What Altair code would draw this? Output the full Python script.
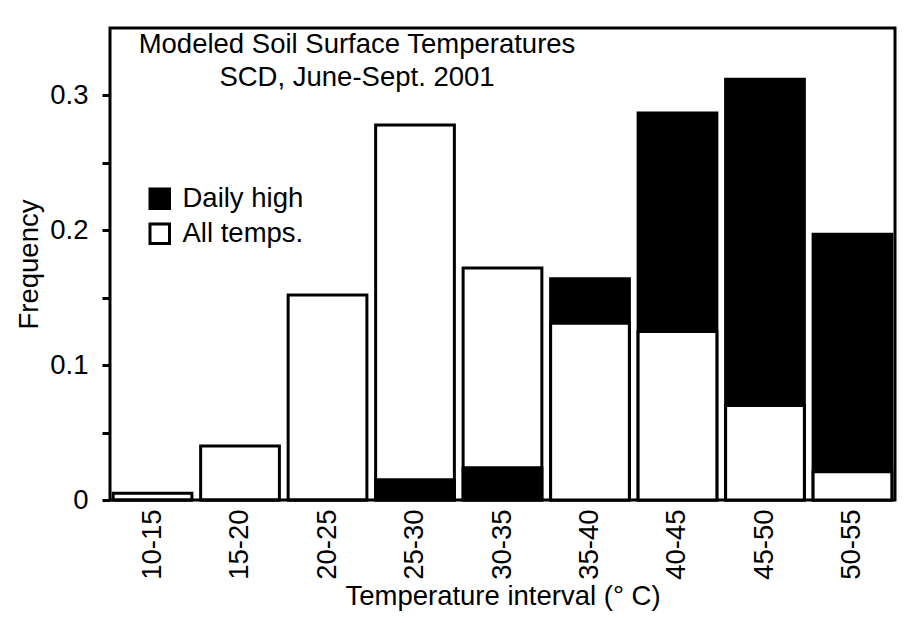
import altair as alt
import pandas as pd

categories = ["10-15", "15-20", "20-25", "25-30", "30-35", "35-40", "40-45", "45-50", "50-55"]
all_temps = [0.005, 0.040, 0.152, 0.278, 0.172, 0.131, 0.125, 0.070, 0.021]
daily_high = [0.0, 0.0, 0.0, 0.015, 0.024, 0.164, 0.287, 0.312, 0.197]
series_names = ["Daily high", "All temps."]
y_ticks = [0, 0.05, 0.1, 0.15, 0.2, 0.25, 0.3]

rows = []
for c, a, d in zip(categories, all_temps, daily_high):
    rows.append({"interval": c, "series": "All temps.", "freq": a})
    rows.append({"interval": c, "series": "Daily high", "freq": d})
df = pd.DataFrame(rows).sort_values("freq", ascending=False).reset_index(drop=True)
df["z"] = range(len(df))

FONT = "Liberation Sans"
FS = 27.5

bars = alt.Chart(df).mark_bar(stroke="black", strokeWidth=3).encode(
    x=alt.X("interval:N", sort=categories,
            scale=alt.Scale(paddingInner=0.1, paddingOuter=0.036),
            axis=alt.Axis(title="Temperature interval (° C)", labelAngle=-90,
                          ticks=False, domain=False, labelPadding=9,
                          titlePadding=3, labelFontSize=FS, titleFontSize=FS)),
    y=alt.Y("freq:Q", stack=None,
            scale=alt.Scale(domain=[0, 0.35], nice=False, zero=True),
            axis=alt.Axis(title="Frequency", values=y_ticks,
                          labelExpr="(round(datum.value*100) % 10 == 0) ? format(datum.value, '.1~f') : ''",
                          tickSize=8, tickWidth=3, tickColor="black",
                          domain=False, grid=False, labelPadding=14,
                          titlePadding=6, labelFontSize=FS, titleFontSize=FS)),
    color=alt.Color("series:N",
                    scale=alt.Scale(domain=series_names, range=["black", "white"]),
                    legend=alt.Legend(title=None, orient="none", legendX=36, legendY=157,
                                      symbolType="square", symbolSize=380,
                                      symbolStrokeColor="black", symbolStrokeWidth=3,
                                      labelFontSize=FS, labelOffset=9, rowPadding=3,
                                      padding=0)),
    order=alt.Order("z:Q"),
).properties(
    width=785,
    height=472,
    padding={"left": 7, "top": 20, "right": 5, "bottom": 5},
    title=alt.TitleParams(
        text=["Modeled Soil Surface Temperatures", "SCD, June-Sept. 2001"],
        anchor="start", align="center", frame="group", dx=247, offset=-63,
        fontSize=FS, fontWeight="normal", font=FONT, color="black",
        lineHeight=33, baseline="top",
    ),
)

chart = bars.configure(font=FONT).configure_view(
    stroke="black", strokeWidth=3
).configure_axis(
    labelColor="black", titleColor="black", labelFont=FONT, titleFont=FONT,
    titleFontWeight="normal",
).configure_legend(
    labelColor="black", labelFont=FONT,
)

chart.save("out.html", embed_options={"renderer": "svg", "actions": False})
